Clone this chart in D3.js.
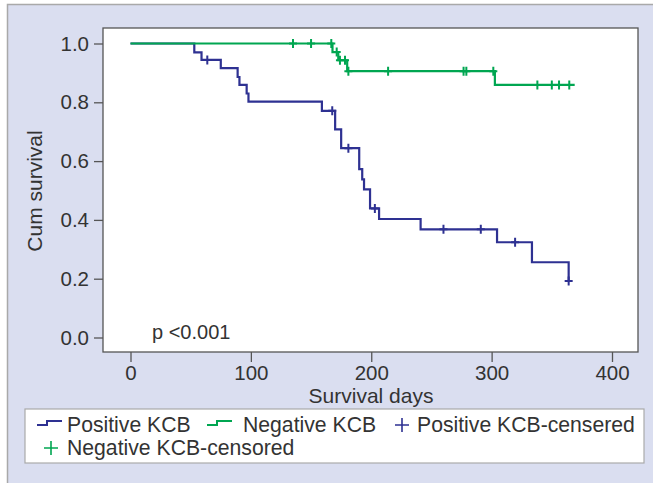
<!DOCTYPE html>
<html>
<head>
<meta charset="utf-8">
<script src="https://cdn.jsdelivr.net/npm/d3@7"></script>
<style>
  body { margin: 0; background: #fff; }
  text { font-family: "Liberation Sans", Arial, sans-serif; fill: #333; }
</style>
</head>
<body>
<div id="chart-container"></div>
<script>
// Kaplan-Meier curves
// survival arrays: first value = start at day 0, then the value after each event
const posEventDays = [53, 59, 75, 89, 90.5, 96.5, 98, 159, 170, 175, 190, 192.5, 194, 199, 206.5, 241, 304.5, 333.5, 364];
const posSurvival = [1.0, 0.970, 0.944, 0.916, 0.886, 0.859, 0.830, 0.802, 0.771, 0.708, 0.644, 0.573, 0.538, 0.504, 0.439, 0.403, 0.368, 0.324, 0.256, 0.192];
const posEndDay = 364;
const posCensorDays = [63.8, 167.6, 181, 203, 260, 291, 319.5, 364];
const posCensorSurv = [0.944, 0.771, 0.644, 0.439, 0.368, 0.368, 0.324, 0.192];

const negEventDays = [167.8, 172.6, 180, 302.7];
const negSurvival = [1.0, 0.971, 0.943, 0.906, 0.859];
const negEndDay = 369;
const negCensorDays = [135, 150, 166.8, 171.3, 174, 178.2, 181, 214, 276.7, 279, 301.4, 338, 350, 356, 364.5];
const negCensorSurv = [1, 1, 1, 0.971, 0.943, 0.943, 0.906, 0.906, 0.906, 0.906, 0.906, 0.859, 0.859, 0.859, 0.859];

const xTicks = [0, 100, 200, 300, 400];
const yTicks = [0, 0.2, 0.4, 0.6, 0.8, 1.0];
const legendLabels = ["Positive KCB", "Negative KCB", "Positive KCB-censered", "Negative KCB-censored"];

const blue = "#2e3192";
const green = "#00a651";

const width = 653, height = 483;
const svg = d3.select("#chart-container")
    .append("svg")
        .attr("width", width)
        .attr("height", height);

// outer panel
svg.append("rect")
    .attr("x", 7.5).attr("y", 4.5)
    .attr("width", 660).attr("height", 490)
    .attr("fill", "#dadef0")
    .attr("stroke", "#a9a9a9")
    .attr("stroke-width", 1.5);

// plot frame
const frame = {left: 103, top: 28, right: 638, bottom: 352};
svg.append("rect")
    .attr("x", frame.left).attr("y", frame.top)
    .attr("width", frame.right - frame.left)
    .attr("height", frame.bottom - frame.top)
    .attr("fill", "#fff")
    .attr("stroke", "#555")
    .attr("stroke-width", 1.3);

const xScale = d3.scaleLinear().domain([0, 400]).range([130.5, 612]);
const yScale = d3.scaleLinear().domain([0, 1]).range([337.5, 43.5]);

// x axis
const xAxis = d3.axisBottom(xScale).tickValues(xTicks).tickSize(10).tickSizeOuter(0).tickPadding(3);
const gx = svg.append("g")
    .attr("transform", `translate(0, ${frame.bottom})`)
    .call(xAxis);
gx.select(".domain").remove();
gx.selectAll(".tick line").attr("stroke", "#555").attr("stroke-width", 1.3);
gx.selectAll(".tick text")
    .attr("font-size", 20.5)
    .attr("font-family", "Liberation Sans, Arial, sans-serif")
    .attr("fill", "#333");

svg.append("text")
    .attr("x", 371)
    .attr("y", 403)
    .attr("text-anchor", "middle")
    .attr("font-size", 21)
    .text("Survival days");

// y axis
const yAxis = d3.axisLeft(yScale).tickValues(yTicks).tickSize(9).tickSizeOuter(0).tickPadding(5)
    .tickFormat(d3.format(".1f"));
const gy = svg.append("g")
    .attr("transform", `translate(${frame.left}, 0)`)
    .call(yAxis);
gy.select(".domain").remove();
gy.selectAll(".tick line").attr("stroke", "#555").attr("stroke-width", 1.3);
gy.selectAll(".tick text")
    .attr("font-size", 20.5)
    .attr("font-family", "Liberation Sans, Arial, sans-serif")
    .attr("fill", "#333");

svg.append("text")
    .attr("transform", "translate(42, 191) rotate(-90)")
    .attr("text-anchor", "middle")
    .attr("font-size", 21)
    .text("Cum survival");

// step curves
function stepPoints(eventDays, survival, endDay) {
    const pts = [[0, survival[0]]];
    eventDays.forEach((t, i) => pts.push([t, survival[i + 1]]));
    pts.push([endDay, survival[survival.length - 1]]);
    return pts;
}
const line = d3.line()
    .x(d => xScale(d[0]))
    .y(d => yScale(d[1]))
    .curve(d3.curveStepAfter);

function drawGroup(eventDays, survival, endDay, censorDays, censorSurv, color) {
    svg.append("path")
        .datum(stepPoints(eventDays, survival, endDay))
        .attr("d", line)
        .attr("fill", "none")
        .attr("stroke", color)
        .attr("stroke-width", 2.2);
    const marks = censorDays.map((t, i) => [t, censorSurv[i]]);
    svg.selectAll(null)
        .data(marks)
        .join("path")
            .attr("d", d => {
                const cx = xScale(d[0]), cy = yScale(d[1]);
                return `M${cx},${cy - 4.5}V${cy + 4.5}M${cx - 4},${cy}H${cx + 4}`;
            })
            .attr("stroke", color)
            .attr("stroke-width", 2)
            .attr("fill", "none");
}
drawGroup(posEventDays, posSurvival, posEndDay, posCensorDays, posCensorSurv, blue);
drawGroup(negEventDays, negSurvival, negEndDay, negCensorDays, negCensorSurv, green);

svg.append("text")
    .attr("x", 152)
    .attr("y", 339)
    .attr("font-size", 20)
    .text("p <0.001");

// legend
svg.append("rect")
    .attr("x", 25).attr("y", 409)
    .attr("width", 619).attr("height", 54)
    .attr("fill", "#fff")
    .attr("stroke", "#aaa")
    .attr("stroke-width", 1.2);

const legendItems = [
    {label: legendLabels[0], color: blue, kind: "step", x: 37, tx: 67, y: 432},
    {label: legendLabels[1], color: green, kind: "step", x: 207, tx: 243, y: 432},
    {label: legendLabels[2], color: blue, kind: "plus", x: 402, tx: 417, y: 432},
    {label: legendLabels[3], color: green, kind: "plus", x: 51, tx: 67, y: 455}
];
legendItems.forEach(d => {
    if (d.kind === "step") {
        svg.append("path")
            .attr("d", `M${d.x},${d.y - 7}H${d.x + 10}V${d.y - 11}H${d.x + 25}`)
            .attr("fill", "none")
            .attr("stroke", d.color)
            .attr("stroke-width", 2);
    } else {
        svg.append("path")
            .attr("d", `M${d.x - 7},${d.y - 7}H${d.x + 7}M${d.x},${d.y - 14}V${d.y}`)
            .attr("fill", "none")
            .attr("stroke", d.color)
            .attr("stroke-width", 1.6);
    }
    svg.append("text")
        .attr("x", d.tx)
        .attr("y", d.y)
        .attr("font-size", 21.2)
        .text(d.label);
});
</script>
</body>
</html>
